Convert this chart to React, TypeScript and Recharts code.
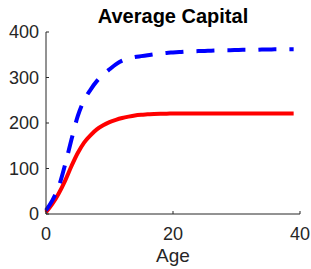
import { Line, LineChart, XAxis, YAxis } from 'recharts';

const ages = Array.from({ length: 40 }, (_, i) => i);
const poorCapital = [
  4, 22, 45, 73, 105, 134, 157, 173, 186, 195, 202, 207, 211, 214, 216.5, 218, 219, 220, 220.5, 220.5,
  221, 221, 221, 221, 221, 221, 221, 221, 221, 221, 221, 221, 221, 221, 221, 221, 221, 221, 221, 221,
];
const richCapital = [
  8, 30, 60, 108, 163, 215, 250, 273, 292, 306, 318, 329, 337, 342, 345, 347, 349, 351, 352.5, 354,
  355, 356, 357, 357.5, 358, 358.5, 359, 359.5, 360, 360, 360.5, 361, 361, 361, 361.5, 361.5, 362, 362, 362, 362,
];
const xTicks = [0, 20, 40];
const yTicks = [0, 100, 200, 300, 400];

const data = ages.map((age, i) => ({ age, red: poorCapital[i], blue: richCapital[i] }));

const AXIS = '#262626';
const FONT = '"Liberation Sans", Arial, Helvetica, sans-serif';
const TICK = 3;

function LeftTick({ x, y, payload }: any) {
  return (
    <g>
      <line x1={x} x2={x + TICK} y1={y} y2={y} stroke={AXIS} strokeWidth={1} />
      <text x={x - 7} y={y} dy="0.36em" textAnchor="end" fontSize={18} fontFamily={FONT} fill={AXIS}>
        {payload.value}
      </text>
    </g>
  );
}

function BottomTick({ x, y, payload }: any) {
  return (
    <g>
      <line x1={x} x2={x} y1={y} y2={y - TICK} stroke={AXIS} strokeWidth={1} />
      <text x={x} y={y + 26} textAnchor="middle" fontSize={18} fontFamily={FONT} fill={AXIS}>
        {payload.value}
      </text>
    </g>
  );
}

function TopTick({ x, y }: any) {
  return <line x1={x} x2={x} y1={y} y2={y + TICK} stroke={AXIS} strokeWidth={1} />;
}

function RightTick({ x, y }: any) {
  return <line x1={x - TICK} x2={x} y1={y} y2={y} stroke={AXIS} strokeWidth={1} />;
}

export default function App() {
  return (
    <div style={{ position: 'absolute', left: 0, top: 0, width: 311, height: 269, background: '#fff' }}>
      <LineChart width={311} height={269} data={data} margin={{ top: 32, right: 11, bottom: 0, left: 0 }}>
        <XAxis
          xAxisId="bottom"
          dataKey="age"
          type="number"
          domain={[0, 40]}
          ticks={xTicks}
          height={55}
          tickSize={0}
          tickMargin={0}
          tickLine={false}
          axisLine={{ stroke: AXIS }}
          tick={<BottomTick />}
          label={{ value: 'Age', position: 'insideBottom', offset: 7, fontSize: 19, fontFamily: FONT, fill: AXIS }}
        />
        <XAxis
          xAxisId="top"
          orientation="top"
          dataKey="age"
          type="number"
          domain={[0, 40]}
          ticks={xTicks}
          height={0}
          tickSize={0}
          tickMargin={0}
          tickLine={false}
          axisLine={{ stroke: AXIS }}
          tick={<TopTick />}
        />
        <YAxis
          yAxisId="left"
          type="number"
          domain={[0, 400]}
          ticks={yTicks}
          width={46}
          tickSize={0}
          tickMargin={0}
          tickLine={false}
          axisLine={{ stroke: AXIS }}
          tick={<LeftTick />}
        />
        <YAxis
          yAxisId="right"
          orientation="right"
          type="number"
          domain={[0, 400]}
          ticks={yTicks}
          width={0}
          tickSize={0}
          tickMargin={0}
          tickLine={false}
          axisLine={{ stroke: AXIS }}
          tick={<RightTick />}
        />
        <Line
          xAxisId="bottom"
          yAxisId="left"
          type="monotone"
          dataKey="red"
          stroke="#ff0000"
          strokeWidth={4}
          dot={false}
          isAnimationActive={false}
        />
        <Line
          xAxisId="bottom"
          yAxisId="left"
          type="monotone"
          dataKey="blue"
          stroke="#0000ff"
          strokeWidth={4}
          strokeDasharray="18 13"
          dot={false}
          isAnimationActive={false}
        />
        <text x={173} y={23} textAnchor="middle" fontSize={20} fontWeight="bold" fontFamily={FONT} fill="#000">
          Average Capital
        </text>
      </LineChart>
    </div>
  );
}
